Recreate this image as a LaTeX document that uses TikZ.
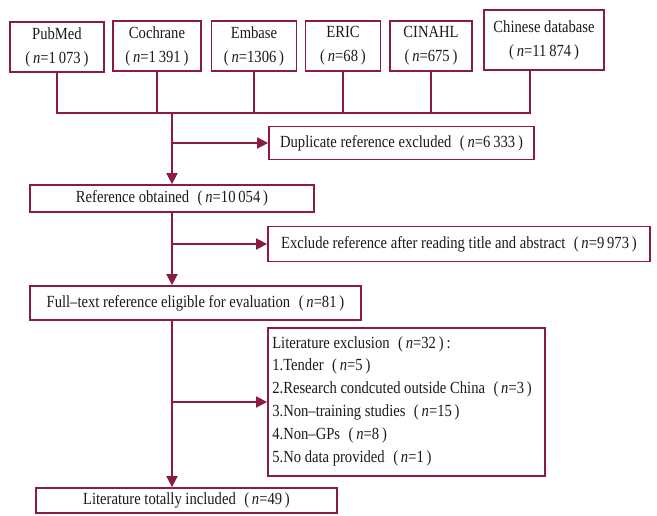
\documentclass[tikz,border=0pt]{standalone}
\usepackage{fontspec}
\setmainfont{Liberation Serif}[FakeStretch=0.86]
\usetikzlibrary{arrows.meta}
\definecolor{frame}{RGB}{140,28,62}
\definecolor{ink}{RGB}{25,25,25}
\newcommand{\nv}[1]{(\,\textit{n}=#1\,)}
\begin{document}
\begin{tikzpicture}[x=1pt,y=-1pt,
  font=\fontsize{17}{24}\selectfont,
  box/.style={draw=frame, line width=1.8pt, inner sep=0pt, text=ink, align=center},
  conn/.style={draw=frame, line width=1.8pt},
  arr/.style={conn, -{Triangle[length=11pt,width=11pt]}, color=frame}]
\useasboundingbox (0,0) rectangle (657,515);
% top databases
\node[box, minimum width=94pt, minimum height=50pt] (pub) at (57,47) {PubMed\\\nv{1\,073}};
\node[box, minimum width=88pt, minimum height=50pt] (coc) at (157,46) {Cochrane\\\nv{1\,391}};
\node[box, minimum width=85pt, minimum height=50pt] (emb) at (254,46) {Embase\\\nv{1306}};
\node[box, minimum width=75pt, minimum height=50pt] (eri) at (343,46) {ERIC\\\nv{68}};
\node[box, minimum width=82pt, minimum height=50pt] (cin) at (431,46) {CINAHL\\\nv{675}};
\node[box, minimum width=120pt, minimum height=60pt] (chn) at (544,40) {Chinese database\\\nv{11\,874}};
% flow boxes
\node[box, minimum width=265pt, minimum height=33pt] (dup) at (401.5,143) {Duplicate reference excluded\enspace\nv{6\,333}};
\node[box, minimum width=284pt, minimum height=27pt] (ref) at (172,198.5) {Reference obtained\enspace\nv{10\,054}};
\node[box, minimum width=382pt, minimum height=35pt] (exc) at (459,244) {Exclude reference after reading title and abstract\enspace\nv{9\,973}};
\node[box, minimum width=331pt, minimum height=34pt] (ful) at (195.5,303) {Full--text reference eligible for evaluation\enspace\nv{81}};
\node[box, minimum width=277pt, minimum height=148pt] (lit) at (406.5,402) {};
\node[anchor=west, inner sep=0pt, text=ink, align=left, font=\fontsize{17}{22.8}\selectfont] (littxt) at ([xshift=5pt,yshift=1pt]lit.west) {Literature exclusion\enspace\nv{32}\,:\\1.Tender\enspace\nv{5}\\2.Research condcuted outside China\enspace\nv{3}\\3.Non--training studies\enspace\nv{15}\\4.Non--GPs\enspace\nv{8}\\5.No data provided\enspace\nv{1}};
\node[box, minimum width=301pt, minimum height=25pt] (inc) at (186.5,500.5) {Literature totally included\enspace\nv{49}};
% merge line
\coordinate (hl) at (0,113);
\coordinate (cx) at ([xshift=-14pt]chn.south);
\draw[conn] (pub.south) -- (pub.south |- hl) -- (cx |- hl) -- (cx);
\draw[conn] (coc.south) -- (coc.south |- hl);
\draw[conn] (emb.south) -- (emb.south |- hl);
\draw[conn] (eri.south) -- (eri.south |- hl);
\draw[conn] (cin.south) -- (cin.south |- hl);
% trunk
\coordinate (t0) at (ref.north |- hl);
\draw[arr] (t0) -- (ref.north);
\draw[arr] (ref.north |- dup.west) -- (dup.west);
\draw[arr] (ref.south) -- (ref.south |- ful.north);
\draw[arr] (ref.south |- exc.west) -- (exc.west);
\draw[arr] (ref.south |- ful.south) -- (ref.south |- inc.north);
\draw[arr] (ref.south |- lit.west) -- (lit.west);
\end{tikzpicture}
\end{document}
